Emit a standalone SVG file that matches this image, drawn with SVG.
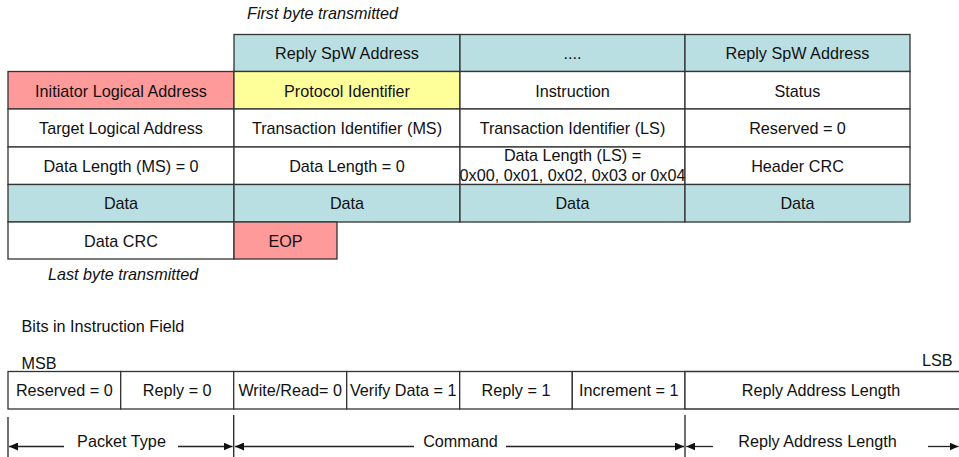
<svg xmlns="http://www.w3.org/2000/svg" width="959" height="457" viewBox="0 0 959 457">
<style>
text{font-family:"Liberation Sans",Arial,sans-serif;font-size:16.2px;fill:#111;text-anchor:middle}
.it{font-style:italic;text-anchor:start}
.l{text-anchor:start}
.c{stroke:#333;stroke-width:1.3}
.w{fill:#fff}
.t{fill:#b9dfe2}
.p{fill:#ff9a9a}
.y{fill:#ffff9a}
.ln{stroke:#222;stroke-width:1.3;fill:none}
</style>
<defs>
<marker id="ah" markerUnits="userSpaceOnUse" markerWidth="10" markerHeight="8" refX="9" refY="4" orient="auto">
<path d="M0,0 L9,4 L0,8 Z" fill="#111"/>
</marker>
</defs>
<text class="it" x="247" y="19">First byte transmitted</text>
<g id="r0c1"><rect class="c t" x="234" y="34.5" width="226" height="37"/><text x="347" y="58.7">Reply SpW Address</text></g>
<g id="r0c2"><rect class="c t" x="460" y="34.5" width="225" height="37"/><text x="572.5" y="58.7">....</text></g>
<g id="r0c3"><rect class="c t" x="685" y="34.5" width="225" height="37"/><text x="797.5" y="58.7">Reply SpW Address</text></g>
<g id="r1c0"><rect class="c p" x="8" y="71.5" width="226" height="37.5"/><text x="121" y="96.5">Initiator Logical Address</text></g>
<g id="r1c1"><rect class="c y" x="234" y="71.5" width="226" height="37.5"/><text x="347" y="96.5">Protocol Identifier</text></g>
<g id="r1c2"><rect class="c w" x="460" y="71.5" width="225" height="37.5"/><text x="572.5" y="96.5">Instruction</text></g>
<g id="r1c3"><rect class="c w" x="685" y="71.5" width="225" height="37.5"/><text x="797.5" y="96.5">Status</text></g>
<g id="r2c0"><rect class="c w" x="8" y="109" width="226" height="38"/><text x="121" y="134">Target Logical Address</text></g>
<g id="r2c1"><rect class="c w" x="234" y="109" width="226" height="38"/><text x="347" y="134">Transaction Identifier (MS)</text></g>
<g id="r2c2"><rect class="c w" x="460" y="109" width="225" height="38"/><text x="572.5" y="134">Transaction Identifier (LS)</text></g>
<g id="r2c3"><rect class="c w" x="685" y="109" width="225" height="38"/><text x="797.5" y="134">Reserved = 0</text></g>
<g id="r3c0"><rect class="c w" x="8" y="147" width="226" height="37.5"/><text x="121" y="171.7">Data Length (MS) = 0</text></g>
<g id="r3c1"><rect class="c w" x="234" y="147" width="226" height="37.5"/><text x="347" y="171.7">Data Length = 0</text></g>
<g id="r3c2"><rect class="c w" x="460" y="147" width="225" height="37.5"/><text x="572.5" y="160.7">Data Length (LS) =</text><text x="572.5" y="180.7">0x00, 0x01, 0x02, 0x03 or 0x04</text></g>
<g id="r3c3"><rect class="c w" x="685" y="147" width="225" height="37.5"/><text x="797.5" y="171.7">Header CRC</text></g>
<g id="r4c0"><rect class="c t" x="8" y="184.5" width="226" height="37.5"/><text x="121" y="209">Data</text></g>
<g id="r4c1"><rect class="c t" x="234" y="184.5" width="226" height="37.5"/><text x="347" y="209">Data</text></g>
<g id="r4c2"><rect class="c t" x="460" y="184.5" width="225" height="37.5"/><text x="572.5" y="209">Data</text></g>
<g id="r4c3"><rect class="c t" x="685" y="184.5" width="225" height="37.5"/><text x="797.5" y="209">Data</text></g>
<g id="r5c0"><rect class="c w" x="8" y="222" width="226" height="37"/><text x="121" y="246.5">Data CRC</text></g>
<g id="r5c1"><rect class="c p" x="234" y="222" width="103" height="37"/><text x="285.5" y="246.5">EOP</text></g>
<text class="it" x="48" y="280">Last byte transmitted</text>
<text class="l" x="21.5" y="331.5">Bits in Instruction Field</text>
<text class="l" x="21.5" y="369">MSB</text>
<text class="l" x="922" y="365.5">LSB</text>
<g id="b0"><rect class="c w" x="8" y="371.5" width="112.7" height="37.5"/><text x="64.3" y="396.3">Reserved = 0</text></g>
<g id="b1"><rect class="c w" x="120.7" y="371.5" width="113" height="37.5"/><text x="177.2" y="396.3">Reply = 0</text></g>
<g id="b2"><rect class="c w" x="233.7" y="371.5" width="113" height="37.5"/><text x="290.2" y="396.3">Write/Read= 0</text></g>
<g id="b3"><rect class="c w" x="346.7" y="371.5" width="113" height="37.5"/><text x="403.2" y="396.3">Verify Data = 1</text></g>
<g id="b4"><rect class="c w" x="459.7" y="371.5" width="112.6" height="37.5"/><text x="516" y="396.3">Reply = 1</text></g>
<g id="b5"><rect class="c w" x="572.3" y="371.5" width="112.7" height="37.5"/><text x="628.7" y="396.3">Increment = 1</text></g>
<g id="b6"><path class="c w" d="M960,371.5 H685 V409 H960"/><text x="821" y="396.3">Reply Address Length</text></g>
<g id="connectors">
<line class="ln" x1="8" y1="417" x2="8" y2="457"/>
<line class="ln" x1="233.7" y1="415" x2="233.7" y2="457"/>
<line class="ln" x1="685" y1="415" x2="685" y2="457"/>
<line class="ln" x1="64" y1="446.5" x2="9" y2="446.5" marker-end="url(#ah)"/>
<line class="ln" x1="178" y1="446.5" x2="232.5" y2="446.5" marker-end="url(#ah)"/>
<line class="ln" x1="414" y1="446.5" x2="235" y2="446.5" marker-end="url(#ah)"/>
<line class="ln" x1="506" y1="446.5" x2="684" y2="446.5" marker-end="url(#ah)"/>
<line class="ln" x1="713" y1="446.5" x2="686.3" y2="446.5" marker-end="url(#ah)"/>
<line class="ln" x1="928" y1="446.5" x2="958.5" y2="446.5" marker-end="url(#ah)"/>
</g>
<text x="121.5" y="446.5">Packet Type</text>
<text x="460.5" y="446.5">Command</text>
<text x="817.5" y="446.5">Reply Address Length</text>
</svg>
